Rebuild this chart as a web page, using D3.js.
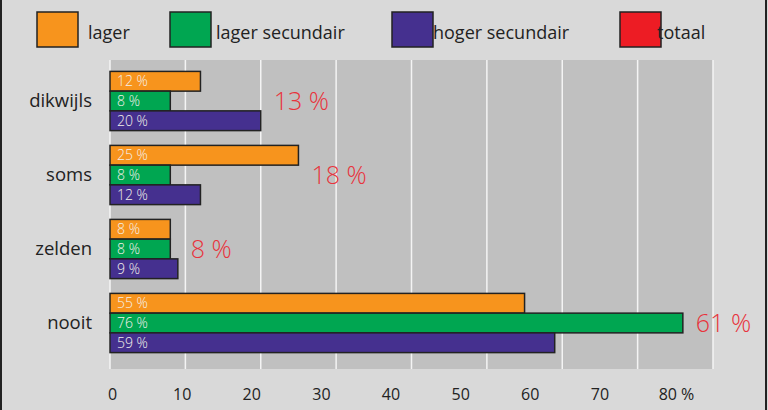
<!DOCTYPE html>
<html>
<head>
<meta charset="utf-8">
<script src="https://cdn.jsdelivr.net/npm/d3@7"></script>
<style>
  body { margin: 0; background: #d9d9d9; }
  svg { display: block; font-family: "Open Sans", sans-serif; }
</style>
</head>
<body>
<div id="chart"></div>
<script>
// data
var categories = ['dikwijls', 'soms', 'zelden', 'nooit'];
var seriesNames = ['lager', 'lager secundair', 'hoger secundair', 'totaal'];
var lager = [12, 25, 8, 55];
var lagerSecundair = [8, 8, 8, 76];
var hogerSecundair = [20, 12, 9, 59];
var totaal = [13, 18, 8, 61];
var tickValues = [0, 10, 20, 30, 40, 50, 60, 70, 80];

var colors = ['#f7941d', '#00a651', '#45308f', '#ed1c24'];

var width = 768, height = 410;

var svg = d3.select('#chart')
    .append('svg')
        .attr('width', width)
        .attr('height', height)

svg.append('rect')
    .attr('width', width)
    .attr('height', height)
    .attr('fill', '#d9d9d9')

// outer frame (left and right edges show in the picture)
svg.append('line').attr('x1', 1).attr('x2', 1).attr('y1', 0).attr('y2', height)
    .attr('stroke', '#222').attr('stroke-width', 2)
svg.append('line').attr('x1', 766).attr('x2', 766).attr('y1', 0).attr('y2', height)
    .attr('stroke', '#222').attr('stroke-width', 2)

var plotTop = 60, plotBottom = 369;

var x = d3.scaleLinear()
    .domain([0, 80])
    .range([110, 713]);

// the printed tick labels sit on their own, slightly tighter spacing
var xLabel = d3.scaleLinear()
    .domain([0, 80])
    .range([112, 669]);

var y = d3.scaleBand()
    .domain(categories)
    .range([64, 360])
    .paddingInner(0.2)
    .paddingOuter(0.1);

var series = [lager, lagerSecundair, hogerSecundair];

var ySub = d3.scaleBand()
    .domain(d3.range(series.length))
    .range([0, y.bandwidth()]);

// plot background
svg.append('rect')
    .attr('x', x(0))
    .attr('y', plotTop)
    .attr('width', x(80) - x(0))
    .attr('height', plotBottom - plotTop)
    .attr('fill', '#c0c0c0')

svg.selectAll('.grid')
    .data(tickValues)
    .enter()
    .append('line')
    .classed('grid', true)
    .attr('x1', d => x(d))
    .attr('x2', d => x(d))
    .attr('y1', plotTop)
    .attr('y2', plotBottom)
        .style('stroke', '#f4f4f4')
        .style('stroke-width', 1.5)

// x axis labels
var axis = d3.axisBottom(xLabel)
    .tickValues(tickValues)
    .tickSize(0)
    .tickFormat(d => d === 80 ? '80 %' : d);

var gAxis = svg.append('g')
    .attr('transform', 'translate(0,386)')
    .call(axis);
gAxis.select('.domain').remove();
gAxis.selectAll('text')
    .attr('dy', '0.71em')
    .style('font-family', '"Open Sans", sans-serif')
    .style('font-size', '16px')
    .style('fill', '#222')
gAxis.selectAll('text').filter(d => d === 80).attr('dx', 7)

// category labels
svg.selectAll('.cat')
    .data(categories)
    .enter()
    .append('text')
    .classed('cat', true)
    .attr('x', 92)
    .attr('y', d => y(d) + y.bandwidth() / 2)
    .attr('dy', '0.35em')
    .attr('text-anchor', 'end')
        .style('font-size', '18.5px')
        .style('fill', '#222')
    .text(d => d)

// bars
series.forEach(function(vals, si) {
    var g = svg.append('g');

    g.selectAll('rect')
        .data(vals)
        .enter()
        .append('rect')
        .attr('x', x(0))
        .attr('y', (d, i) => y(categories[i]) + ySub(si))
        .attr('width', d => x(d) - x(0))
        .attr('height', ySub.bandwidth())
        .attr('fill', colors[si])
            .style('stroke', '#222')
            .style('stroke-width', 1.5)

    g.selectAll('text')
        .data(vals)
        .enter()
        .append('text')
        .attr('x', x(0) + 7)
        .attr('y', (d, i) => y(categories[i]) + ySub(si) + ySub.bandwidth() / 2)
        .attr('dy', '0.36em')
            .style('font-size', '14px')
            .style('font-weight', 300)
            .style('fill', '#f4f0ea')
        .text(d => d + ' %')
});

// totaal, in red beside each group
svg.selectAll('.tot')
    .data(totaal)
    .enter()
    .append('text')
    .classed('tot', true)
    .attr('x', (d, i) => x(d3.max(series, s => s[i])) + 13)
    .attr('y', (d, i) => y(categories[i]) + y.bandwidth() / 2)
    .attr('dy', '0.36em')
        .style('font-size', '25px')
        .style('font-weight', 300)
        .style('fill', '#e8333c')
    .text(d => d + ' %')

// legend
var legendX = [37, 170, 392, 620];
var legendTextX = [88, 216, 433, 657];

var legend = svg.selectAll('.legend')
    .data(seriesNames)
    .enter()
    .append('g')
    .classed('legend', true)

legend.append('rect')
    .attr('x', (d, i) => legendX[i])
    .attr('y', 12)
    .attr('width', 41)
    .attr('height', 35)
    .attr('fill', (d, i) => colors[i])
        .style('stroke', '#222')
        .style('stroke-width', 1.5)

legend.append('text')
    .attr('x', (d, i) => legendTextX[i])
    .attr('y', 39)
        .style('font-size', '18px')
        .style('fill', '#222')
    .text(d => d)
</script>
</body>
</html>
